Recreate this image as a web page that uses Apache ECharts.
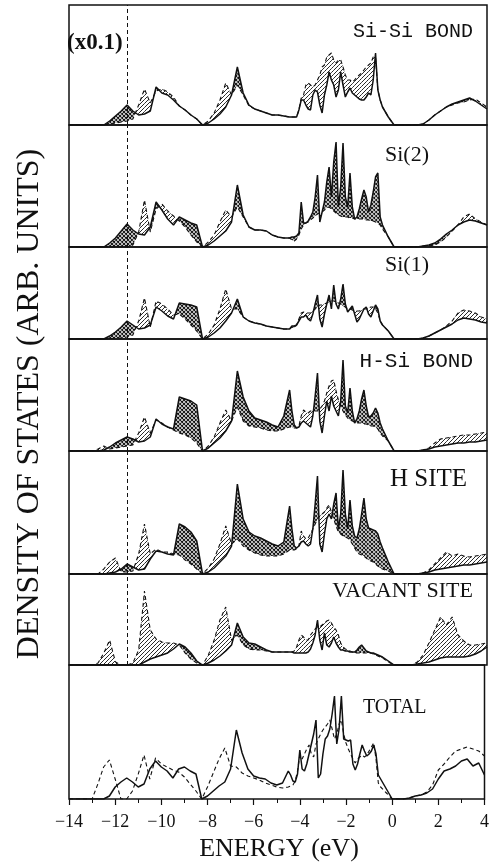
<!DOCTYPE html>
<html>
<head>
<meta charset="utf-8">
<script src="https://cdn.jsdelivr.net/npm/echarts@6/dist/echarts.min.js"></script>
<style>
  html, body { margin: 0; padding: 0; background: #fff; }
  #dos { width: 492px; height: 863px; }
</style>
</head>
<body>
<div id="dos"></div>
<script>
// energy grid (eV): coarse below -4.5, fine in the valence peak region, coarse above -0.5
var energy = [
  -14, -13.75, -13.5, -13.25, -13, -12.75, -12.5, -12.25, -12, -11.75, -11.5, -11.25, -11, -10.75, -10.5, -10.25, -10, -9.75, -9.5, -9.25,
  -9, -8.75, -8.5, -8.25, -8, -7.75, -7.5, -7.25, -7, -6.75, -6.5, -6.25, -6, -5.75, -5.5, -5.25, -5, -4.75, -4.5,
  -4.4, -4.3, -4.2, -4.1, -4, -3.9, -3.8, -3.7, -3.6, -3.5, -3.4, -3.3, -3.2, -3.1, -3, -2.9, -2.8, -2.7, -2.6, -2.5,
  -2.4, -2.3, -2.2, -2.1, -2, -1.9, -1.8, -1.7, -1.6, -1.5, -1.4, -1.3, -1.2, -1.1, -1, -0.9, -0.8, -0.7, -0.6, -0.5,
  -0.25, 0, 0.25, 0.5, 0.75, 1, 1.25, 1.5, 1.75, 2, 2.25, 2.5, 2.75, 3, 3.25, 3.5, 3.75, 4
];

// densities, arbitrary units (solid = one curve, dashed = the other)
var siSiSolid = [
  0,0,0,0,0,0,0,4,9,14,20,14,10,11,14,38,32,30,25,19,15,10,6,0,2,6,11,18,30,58,32,20,16,14,12,10,10,9,8,
  8,8,8,15,25,25,20,16,15,30,35,33,20,12,30,40,53,45,40,28,35,53,40,28,33,37,32,30,28,26,25,25,28,32,30,45,72,35,25,18,
  8,0,0,0,0,0,1,5,10,14,18,21,23,25,27,24,20,16
];
var siSiDashed = [
  0,0,0,0,0,0,0,1,2,3,4,6,20,36,22,34,36,33,28,19,15,10,6,0,4,12,25,42,30,40,30,19,16,14,12,10,10,9,8,
  8,8,8,15,27,30,40,42,40,38,40,45,50,58,60,68,70,72,65,62,65,65,58,50,45,45,43,45,48,50,52,55,58,60,62,68,68,35,25,18,
  8,0,0,0,0,0,1,5,10,14,18,20,22,23,25,26,22,18
];
var si2Solid = [
  0,0,0,0,0,0,0,4,9,16,23,17,13,12,20,45,37,28,22,30,27,24,22,0,2,6,11,16,25,62,32,20,17,17,16,12,10,9,9,
  10,10,11,14,45,24,24,26,30,35,50,72,25,35,45,65,80,50,85,105,40,60,104,50,40,74,40,28,30,38,48,57,50,35,42,55,70,74,30,22,
  10,0,0,0,0,0,1,2,4,8,13,17,22,25,27,26,24,22
];
var si2Dashed = [
  0,0,0,0,0,0,0,0,0,0,0,2,15,47,15,38,43,36,31,26,20,12,5,0,5,12,25,37,30,40,30,20,17,17,16,12,10,9,9,
  7,6,8,12,18,22,24,25,27,29,31,33,34,35,37,39,40,38,36,34,32,31,30,30,30,29,29,28,28,28,28,28,27,27,26,26,25,24,22,18,
  10,0,0,0,0,0,1,1,2,5,10,16,22,30,33,28,25,22
];
var si1Solid = [
  0,0,0,0,0,0,0,3,7,12,18,14,10,11,14,32,28,23,20,36,35,34,32,0,2,6,11,18,26,40,22,18,16,15,13,12,11,10,10,
  13,13,14,18,22,22,24,20,18,25,35,44,20,12,25,35,44,30,54,35,30,40,55,35,27,30,33,25,17,20,25,30,32,25,22,28,34,30,18,14,
  8,0,0,0,0,0,1,3,6,9,12,15,19,21,20,19,17,16
];
var si1Dashed = [
  0,0,0,0,0,0,0,0,1,1,2,4,18,41,12,38,35,30,24,25,20,14,8,0,5,14,30,50,30,30,22,18,16,15,13,12,11,10,10,
  12,11,14,20,26,27,26,26,26,28,30,32,34,34,35,36,37,38,38,37,36,35,33,32,30,30,29,28,28,28,29,30,30,31,32,32,30,26,18,14,
  8,0,0,0,0,0,1,3,6,9,13,18,26,29,28,26,22,20
];
var hSiSolid = [
  0,0,0,0,0,0,1,4,8,11,14,12,9,10,14,32,27,24,22,54,52,50,46,0,3,8,13,20,30,80,54,40,33,31,29,26,24,35,61,
  40,26,23,24,28,30,28,26,24,35,55,78,30,18,35,50,40,55,45,40,35,50,91,45,38,63,40,28,32,40,52,61,45,34,35,38,43,38,28,22,
  10,0,0,0,0,0,1,2,4,5,6,7,8,8,9,9,10,11
];
var hSiDashed = [
  0,0,0,0,0,2,5,2,3,4,5,6,18,34,18,31,28,24,21,18,16,13,8,0,5,14,28,41,30,44,30,25,24,23,21,20,20,22,24,
  24,23,23,25,35,41,39,38,40,40,40,40,42,45,50,58,65,70,71,60,51,45,40,36,33,31,30,29,28,28,28,27,27,26,25,25,24,22,18,15,
  10,0,0,0,0,0,1,3,8,12,13,14,15,16,16,17,18,19
];
var hSiteSolid = [
  0,0,0,0,0,0,0,1,2,5,10,7,4,5,15,23,22,20,19,50,47,42,33,0,2,6,12,18,28,90,55,42,38,36,33,30,28,32,68,
  45,28,26,28,32,33,30,28,30,45,70,98,30,22,40,55,60,55,70,81,45,60,104,60,45,74,48,38,36,45,60,76,55,46,45,44,43,40,32,26,
  12,0,0,0,0,0,1,2,4,5,6,7,8,9,9,10,11,12
];
var hSiteDashed = [
  0,0,0,0,0,0,5,12,16,2,2,3,20,50,20,25,22,22,20,19,14,10,5,0,6,15,30,48,30,35,28,24,21,19,18,18,18,20,24,
  24,24,25,28,43,38,35,36,40,45,50,55,58,60,62,66,69,62,55,48,42,40,38,37,36,34,30,26,22,20,19,18,16,14,13,12,10,8,6,5,
  3,0,0,0,0,0,1,4,10,16,22,18,20,18,17,18,19,20
];
var vacantSolid = [
  0,0,0,0,0,0,0,0,0,0,0,0,0,3,6,8,10,12,16,21,18,12,4,0,2,5,9,14,20,42,28,22,21,18,15,13,13,13,13,
  13,12,12,12,12,12,12,13,16,22,30,45,25,15,32,20,18,22,28,22,18,15,15,14,14,13,13,13,15,18,20,17,14,13,12,12,11,10,9,8,
  4,0,0,0,0,1,2,3,5,7,8,8,8,8,9,11,14,18
];
var vacantDashed = [
  0,0,0,0,0,2,12,25,3,0,0,2,15,74,35,26,23,22,22,20,12,6,2,0,10,25,45,58,25,30,20,16,15,15,14,13,13,13,13,
  13,14,18,25,30,28,25,25,30,33,36,38,38,40,42,44,45,42,38,35,30,22,18,16,15,14,13,12,12,12,12,12,12,12,12,11,10,9,8,7,
  3,0,0,0,0,3,10,22,35,48,40,48,30,24,20,20,21,22
];
var totalSolid = [
  0,0,0,0,0,0,0,3,12,17,21,17,12,15,30,38,32,28,21,30,32,28,25,0,3,8,13,17,30,69,46,30,23,21,20,16,14,16,28,
  24,18,17,25,49,30,28,35,45,55,65,79,21,25,45,60,63,70,85,103,55,70,103,60,59,58,59,35,29,35,45,54,48,43,45,48,54,45,24,20,
  10,0,0,0,1,3,4,6,10,20,28,30,33,38,40,33,36,24
];
var totalDashed = [
  0,0,0,0,0,15,32,39,20,0,0,8,25,44,20,41,35,32,29,27,22,15,8,0,12,26,40,51,33,32,26,23,21,19,16,14,12,11,12,
  13,14,18,28,44,40,45,50,54,45,42,55,60,65,69,72,75,79,70,60,65,75,79,65,56,50,45,40,36,40,42,44,42,44,48,52,56,40,16,12,
  6,0,0,0,1,3,4,7,14,29,35,42,48,50,52,50,48,43
];

var panelNames = ['Si-Si BOND', 'Si(2)', 'Si(1)', 'H-Si BOND', 'H SITE', 'VACANT SITE', 'TOTAL'];
var solidCurves = [siSiSolid, si2Solid, si1Solid, hSiSolid, hSiteSolid, vacantSolid, totalSolid];
var dashedCurves = [siSiDashed, si2Dashed, si1Dashed, hSiDashed, hSiteDashed, vacantDashed, totalDashed];
var markerEnergy = -11.5;

// layout (px)
var panelTop = [5, 125, 247, 339, 451, 574, 665];
var panelHeight = [120, 122, 92, 112, 123, 91, 134];
var ink = '#111';
var serif = '"Liberation Serif", "DejaVu Serif", serif';
var mono = '"Liberation Mono", "DejaVu Sans Mono", monospace';

function hatchTile(cross) {
  var c = document.createElement('canvas');
  c.width = 4; c.height = 4;
  var g = c.getContext('2d');
  g.strokeStyle = ink;
  g.lineWidth = cross ? 1.1 : 0.9;
  g.beginPath();
  g.moveTo(0, 4); g.lineTo(4, 0);
  g.moveTo(-1, 1); g.lineTo(1, -1);
  g.moveTo(3, 5); g.lineTo(5, 3);
  if (cross) {
    g.moveTo(0, 0); g.lineTo(4, 4);
    g.moveTo(-1, 3); g.lineTo(1, 5);
    g.moveTo(3, -1); g.lineTo(5, 1);
  }
  g.stroke();
  return c;
}
var singleHatch = { image: hatchTile(false), repeat: 'repeat' };
var crossHatch = { image: hatchTile(true), repeat: 'repeat' };

// polygon between the two curves on one grid step: single hatch where dashed is higher,
// cross hatch where solid is higher (split at the crossing point)
function renderGap(params, api) {
  var e0 = api.value(0), s0 = api.value(1), d0 = api.value(2);
  var e1 = api.value(3), s1 = api.value(4), d1 = api.value(5);
  var g0 = d0 - s0, g1 = d1 - s1;
  var kids = [];
  function poly(pts, fill) {
    kids.push({ type: 'polygon', shape: { points: pts.map(function (p) { return api.coord(p); }) },
                style: { fill: fill, stroke: null } });
  }
  if (g0 === 0 && g1 === 0) return null;
  if ((g0 >= 0 && g1 >= 0) || (g0 <= 0 && g1 <= 0)) {
    poly([[e0, s0], [e1, s1], [e1, d1], [e0, d0]], (g0 + g1 > 0) ? singleHatch : crossHatch);
  } else {
    var t = g0 / (g0 - g1);
    var ec = e0 + t * (e1 - e0), yc = s0 + t * (s1 - s0);
    poly([[e0, s0], [ec, yc], [e0, d0]], g0 > 0 ? singleHatch : crossHatch);
    poly([[ec, yc], [e1, s1], [e1, d1]], g1 > 0 ? singleHatch : crossHatch);
  }
  return { type: 'group', children: kids };
}

var grids = [], xAxes = [], yAxes = [], series = [];
for (var i = 0; i < 7; i++) {
  var last = i === 6;
  grids.push({
    left: 69, right: 5, top: panelTop[i], height: panelHeight[i],
    show: true, borderColor: ink, borderWidth: 1.5, backgroundColor: 'transparent'
  });
  xAxes.push({
    type: 'value', gridIndex: i, min: -14, max: 4, interval: 2,
    axisLine: { show: false },
    splitLine: { show: false },
    axisTick: { show: last, inside: false, length: 6, lineStyle: { color: ink, width: 1.2 } },
    minorTick: { show: last, splitNumber: 2, length: 4, lineStyle: { color: ink, width: 1 } },
    axisLabel: {
      show: last, margin: 14, color: ink, fontFamily: serif, fontSize: 18,
      formatter: function (v) { return (v < 0 ? '\u2212' : '') + Math.abs(v); }
    }
  });
  yAxes.push({ type: 'value', gridIndex: i, min: 0, max: panelHeight[i], show: false });

  var s = solidCurves[i], d = dashedCurves[i];
  var solidPts = [], dashedPts = [], gaps = [];
  for (var k = 0; k < energy.length; k++) {
    solidPts.push([energy[k], s[k]]);
    dashedPts.push([energy[k], d[k]]);
    if (k + 1 < energy.length) gaps.push([energy[k], s[k], d[k], energy[k + 1], s[k + 1], d[k + 1]]);
  }

  if (!last) {
    series.push({
      type: 'custom', xAxisIndex: i, yAxisIndex: i, data: gaps, silent: true, z: 2,
      renderItem: renderGap,
      encode: { x: [0, 3], y: [1, 2, 4, 5] }
    });
  }

  series.push({
    type: 'line', xAxisIndex: i, yAxisIndex: i, data: solidPts, symbol: 'none', silent: true, z: 5,
    lineStyle: { color: ink, width: 1.5 },
    markLine: last ? undefined : {
      symbol: ['none', 'none'], silent: true, label: { show: false },
      lineStyle: { color: ink, width: 1, type: [4, 3] },
      data: [{ xAxis: markerEnergy }]
    }
  });
  series.push({
    type: 'line', xAxisIndex: i, yAxisIndex: i, data: dashedPts, symbol: 'none', silent: true, z: 5,
    lineStyle: { color: ink, width: 1.1, type: [4, 3] }
  });
}

function label(text, x, y, font, align) {
  return { type: 'text', x: x, y: y, z: 10, style: {
    text: text, font: font, fill: ink, textAlign: align || 'left', textVerticalAlign: 'middle' } };
}

var chart = echarts.init(document.getElementById('dos'));
chart.setOption({
  animation: false,
  grid: grids,
  xAxis: xAxes,
  yAxis: yAxes,
  series: series,
  graphic: [
    label('(x0.1)', 67, 43, 'bold 23px ' + serif),
    label(panelNames[0], 473, 32, '20px ' + mono, 'right'),
    label(panelNames[1], 385, 155, '22px ' + serif),
    label(panelNames[2], 385, 265, '22px ' + serif),
    label(panelNames[3], 473, 361, '21px ' + mono, 'right'),
    label(panelNames[4], 467, 479, '25px ' + serif, 'right'),
    label(panelNames[5], 473, 591, '22px ' + serif, 'right'),
    label(panelNames[6], 363, 708, '20px ' + serif),
    label('ENERGY (eV)', 279, 849, '26px ' + serif, 'center'),
    { type: 'text', x: 30, y: 404, rotation: Math.PI / 2, z: 10, style: {
      text: 'DENSITY OF STATES (ARB. UNITS)', font: '32px ' + serif, fill: ink,
      textAlign: 'center', textVerticalAlign: 'middle' } }
  ]
});
</script>
</body>
</html>
